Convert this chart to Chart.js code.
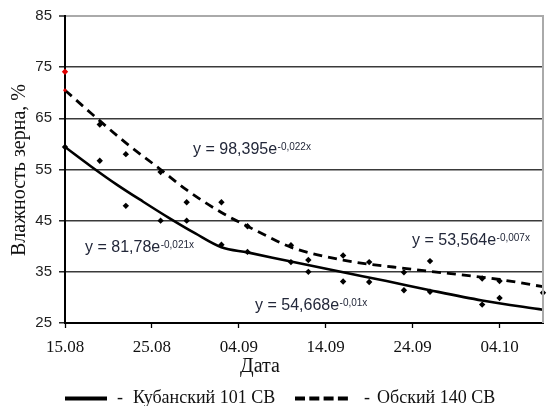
<!DOCTYPE html>
<html><head><meta charset="utf-8">
<script src="https://cdn.jsdelivr.net/npm/chart.js@4"></script>
<style>html,body{margin:0;padding:0;background:#fff}#wrap{width:547px;height:406px;position:relative}</style>
</head><body><div id="wrap"><canvas id="c" width="547" height="406"></canvas></div>
<script>
// Tick labels (dates, every 10 days from 15.08)
const xTickLabels = ['15.08','25.08','04.09','14.09','24.09','04.10'];
const yTickValues = [25,35,45,55,65,75,85];

// Series names
const seriesNames = ['Кубанский 101 СВ','Обский 140 СВ'];

// Observed points (days after 15.08, moisture %)
const kubDays   = [0,4,7,11,14,18,21,26,28,32,35,39,42,48,50];
const kubValues = [59.4,56.7,47.9,45.0,45.0,40.3,38.9,36.9,35.0,33.1,33.0,31.4,31.1,28.6,29.9];
const obsDays   = [0,4,7,11,14,18,21,26,28,32,35,39,42,48,50,55];
const obsValues = [74.1,63.8,58.0,54.5,48.6,48.6,43.9,40.2,37.3,38.2,36.9,34.9,37.1,33.7,33.2,30.9];

// Trend curves
const kubTrendDays   = [0,3,6,9,12,15,18,21,26,32,37,42,48,55];
const kubTrendValues = [59.4,55.6,52.0,48.7,45.5,42.5,39.8,38.8,37.0,34.9,33.2,31.4,29.4,27.6];
const obsTrendDays   = [0,3,7,11,14,18,21,23,26,32,40,50,55];
const obsTrendValues = [70.5,66.0,60.2,55.0,51.0,46.6,43.9,42.2,39.8,37.3,35.5,33.5,32.1];

// Trend equations
const eqMain = ['y = 98,395e','y = 81,78e','y = 54,668e','y = 53,564e'];
const eqExp  = ['-0,022x','-0,021x','-0,01x','-0,007x'];

const pts = (xs, ys) => xs.map((x,i)=>({x:x, y:ys[i]}));
const SANS = '"Liberation Sans", Arial, sans-serif';
const SERIF = '"Liberation Serif", "Times New Roman", serif';

const overlay = {
  id: 'overlay',
  afterDraw(chart){
    const {ctx, chartArea:a} = chart;
    ctx.save();
    // right border
    ctx.strokeStyle = '#aaaaaa'; ctx.lineWidth = 2;
    ctx.beginPath(); ctx.moveTo(a.right, a.top - 1); ctx.lineTo(a.right, a.bottom); ctx.stroke();

    // equations
    const eqPos = [[193,154],[85,252],[255,310],[412,245]];
    ctx.fillStyle = '#23283a';
    ctx.textAlign = 'left'; ctx.textBaseline = 'alphabetic';
    eqMain.forEach((m,i)=>{
      const [x,y] = eqPos[i];
      ctx.font = '16px ' + SANS;
      ctx.fillText(m, x, y);
      const w = ctx.measureText(m).width;
      ctx.font = '10px ' + SANS;
      ctx.fillText(eqExp[i], x + w + 0.5, y - 4.5);
    });

    // axis titles
    ctx.fillStyle = '#111';
    ctx.font = '20px ' + SERIF;
    ctx.textAlign = 'center';
    ctx.fillText('Дата', 260, 372);
    ctx.save();
    ctx.translate(25, 170);
    ctx.rotate(-Math.PI/2);
    ctx.fillText('Влажность зерна, %', 0, 0);
    ctx.restore();

    // legend
    const ly = 398.5;
    ctx.strokeStyle = '#000'; ctx.lineWidth = 4;
    ctx.beginPath(); ctx.moveTo(65, ly); ctx.lineTo(107, ly); ctx.stroke();
    ctx.setLineDash([10, 4.3]);
    ctx.beginPath(); ctx.moveTo(295, ly); ctx.lineTo(349, ly); ctx.stroke();
    ctx.setLineDash([]);
    ctx.font = '18px ' + SERIF;
    ctx.textAlign = 'left';
    ctx.fillText('-', 117, 403);
    ctx.fillText(seriesNames[0], 133, 403);
    ctx.fillText('-', 364, 403);
    ctx.fillText(seriesNames[1], 377, 403);
    ctx.restore();
  }
};

new Chart(document.getElementById('c'), {
  type: 'scatter',
  data: {
    datasets: [
      { label: seriesNames[0] + ' points', data: pts(kubDays, kubValues), clip: false,
        pointStyle: 'rectRot', pointRadius: 3.2, pointBackgroundColor: '#000', pointBorderColor: '#000', pointBorderWidth: 0, showLine: false },
      { label: seriesNames[1] + ' points', data: pts(obsDays, obsValues), clip: false,
        pointStyle: 'rectRot', pointRadius: 3.2,
        pointBackgroundColor: obsDays.map((d,i)=> i===0 ? '#e00000' : '#000'),
        pointBorderColor: obsDays.map((d,i)=> i===0 ? '#e00000' : '#000'), pointBorderWidth: 0, showLine: false },
      { label: seriesNames[0], data: pts(kubTrendDays, kubTrendValues), showLine: true,
        borderColor: '#000', borderWidth: 2.6, pointRadius: 0, cubicInterpolationMode: 'monotone', fill: false },
      { label: seriesNames[1], data: pts(obsTrendDays, obsTrendValues), showLine: true, clip: false,
        borderColor: '#000', borderWidth: 2.8, borderDash: [9, 6], cubicInterpolationMode: 'monotone', fill: false,
        pointRadius: obsTrendDays.map((d,i)=> i===0 ? 1.6 : 0), pointBackgroundColor: '#e00000', pointBorderWidth: 0 }
    ]
  },
  options: {
    responsive: false, animation: false, devicePixelRatio: 1,
    layout: { padding: { top: 15, right: 1, left: 0, bottom: 0 } },
    plugins: { legend: { display: false }, tooltip: { enabled: false } },
    scales: {
      x: {
        type: 'linear', min: 0, max: 55,
        afterBuildTicks: s => { s.ticks = xTickLabels.map((_, i) => ({ value: i * 10 })); },
        afterFit: s => { s.height = 83; },
        ticks: { callback: v => xTickLabels[Math.round(v / 10)], font: { family: SERIF, size: 17 }, color: '#111', padding: 9, maxRotation: 0, autoSkip: false },
        grid: { drawOnChartArea: false, drawTicks: true, tickLength: 5, tickColor: '#000', tickWidth: 1.3 },
        border: { color: '#000', width: 2 }
      },
      y: {
        min: 25, max: 85,
        afterBuildTicks: s => { s.ticks = yTickValues.map(v => ({ value: v })); },
        afterFit: s => { s.width = 65; },
        ticks: { font: { family: SANS, size: 15 }, color: '#222', padding: 7 },
        grid: {
          color: c => (c.tick && c.tick.value === 85) ? '#aaaaaa' : '#3a3a3a',
          lineWidth: c => (c.tick && c.tick.value === 85) ? 2 : 1.6,
          tickLength: 6, tickColor: '#000', tickWidth: 1.3
        },
        border: { color: '#000', width: 2 }
      }
    }
  },
  plugins: [overlay]
});
</script></body></html>
